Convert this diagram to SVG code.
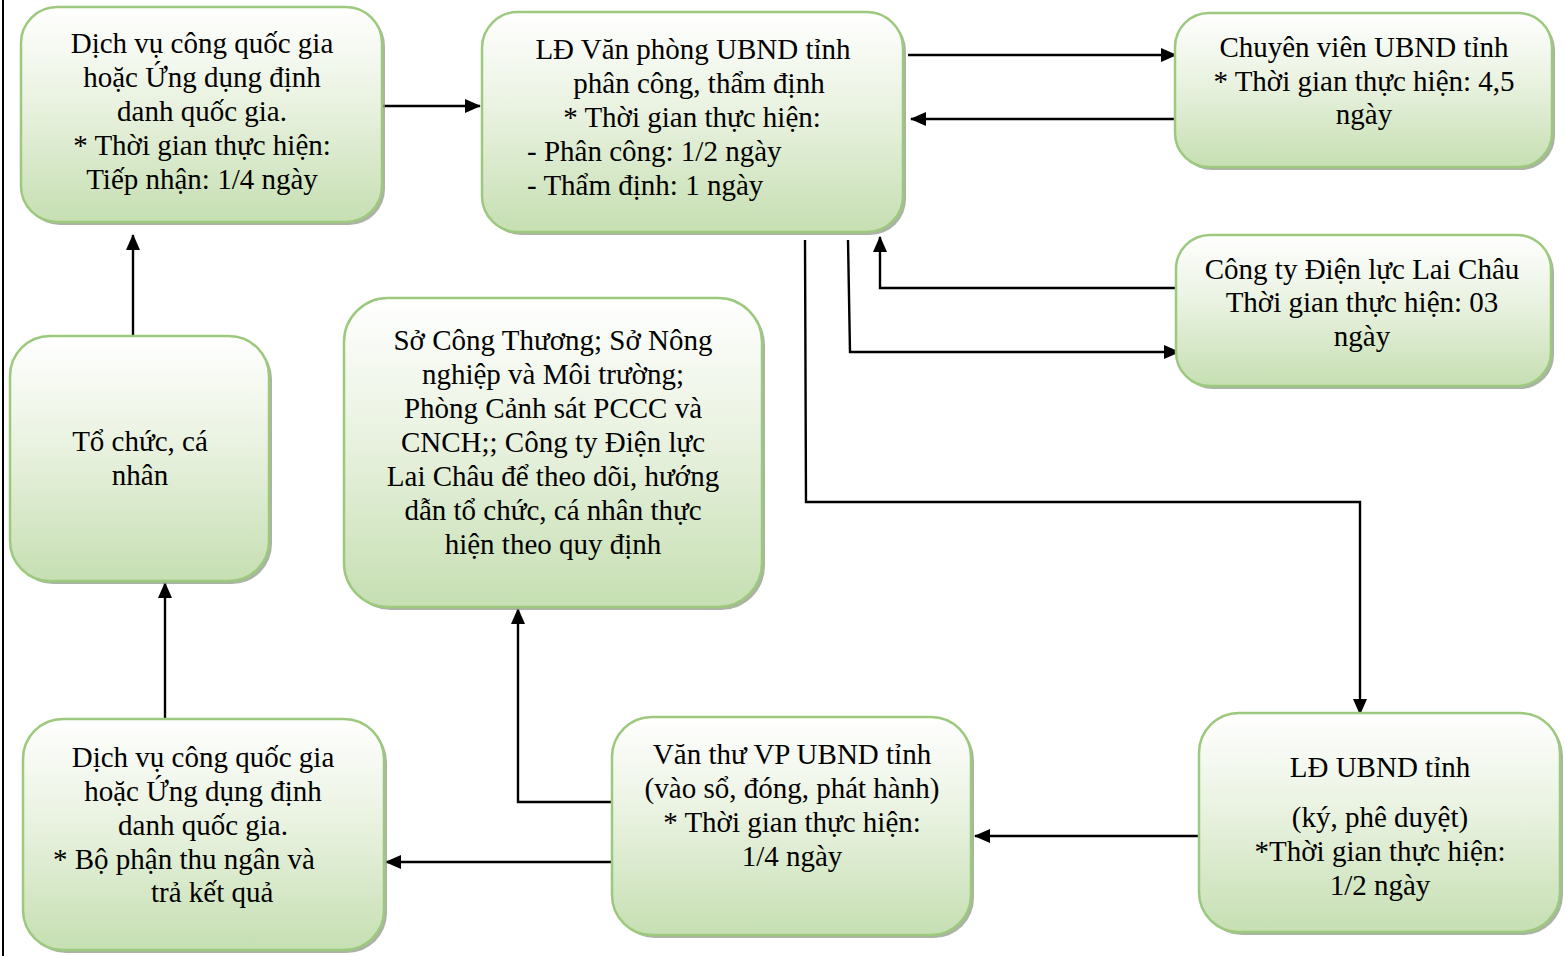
<svg xmlns="http://www.w3.org/2000/svg" width="1566" height="956" viewBox="0 0 1566 956">
<defs>
<linearGradient id="g" x1="0" y1="0" x2="0" y2="1">
<stop offset="0" stop-color="#ffffff"/>
<stop offset="0.45" stop-color="#e9f2e0"/>
<stop offset="1" stop-color="#c6dfb2"/>
</linearGradient>
<marker id="ah" markerWidth="16" markerHeight="14" refX="15" refY="7" orient="auto" markerUnits="userSpaceOnUse">
<path d="M0,0 L16,7 L0,14 Z" fill="#000"/>
</marker>
</defs>
<style>
.box{fill:url(#g);stroke:#9cc97e;stroke-width:2.5}
.sh{fill:#8f9a88;opacity:0.75}
text{font-family:"Liberation Serif","Times New Roman",serif;font-size:29px;fill:#000}
.c{text-anchor:middle}
.ar{fill:none;stroke:#000;stroke-width:2.4;marker-end:url(#ah)}
</style>
<rect width="1566" height="956" fill="#fff"/>
<line x1="3" y1="0" x2="3" y2="956" stroke="#000" stroke-width="2"/>

<g id="connectors">
<path class="ar" d="M383,106 H480"/>
<path class="ar" d="M908,55 H1176"/>
<path class="ar" d="M1176,119 H911"/>
<path class="ar" d="M1176,288 H880 V237"/>
<path class="ar" d="M848,240 L850,352 H1179"/>
<path class="ar" d="M805,240 L806,502 H1360 V714"/>
<path class="ar" d="M133,336 V235"/>
<path class="ar" d="M165,718 V583"/>
<path class="ar" d="M612,862 H386"/>
<path class="ar" d="M612,802 H518 V609"/>
<path class="ar" d="M1199,836 H975"/>
</g>

<g id="n1">
<rect class="sh" x="24" y="10" width="361" height="215" rx="36"/>
<rect class="box" x="21" y="7" width="361" height="215" rx="36"/>
<text class="c" x="202" y="53">Dịch vụ công quốc gia</text>
<text class="c" x="202" y="87">hoặc Ứng dụng định</text>
<text class="c" x="202" y="121">danh quốc gia.</text>
<text class="c" x="202" y="155">* Thời gian thực hiện:</text>
<text class="c" x="202" y="189">Tiếp nhận: 1/4 ngày</text>
</g>

<g id="n2">
<rect class="sh" x="485" y="15" width="421" height="220" rx="36"/>
<rect class="box" x="482" y="12" width="421" height="220" rx="36"/>
<text class="c" x="693" y="59">LĐ Văn phòng UBND tỉnh</text>
<text class="c" x="699" y="93">phân công, thẩm định</text>
<text class="c" x="692" y="127">* Thời gian thực hiện:</text>
<text x="527" y="161">- Phân công: 1/2 ngày</text>
<text x="527" y="195">- Thẩm định: 1 ngày</text>
</g>

<g id="n3">
<rect class="sh" x="1178" y="16" width="377" height="154" rx="34"/>
<rect class="box" x="1175" y="13" width="377" height="154" rx="34"/>
<text class="c" x="1364" y="57">Chuyên viên UBND tỉnh</text>
<text class="c" x="1364" y="91">* Thời gian thực hiện: 4,5</text>
<text class="c" x="1364" y="124">ngày</text>
</g>

<g id="n4">
<rect class="sh" x="1179" y="238" width="375" height="151" rx="34"/>
<rect class="box" x="1176" y="235" width="375" height="151" rx="34"/>
<text class="c" x="1362" y="279">Công ty Điện lực Lai Châu</text>
<text class="c" x="1362" y="312">Thời gian thực hiện: 03</text>
<text class="c" x="1362" y="346">ngày</text>
</g>

<g id="n5">
<rect class="sh" x="347" y="301" width="418" height="309" rx="44"/>
<rect class="box" x="344" y="298" width="418" height="309" rx="44"/>
<text class="c" x="553" y="350">Sở Công Thương; Sở Nông</text>
<text class="c" x="553" y="384">nghiệp và Môi trường;</text>
<text class="c" x="553" y="418">Phòng Cảnh sát PCCC và</text>
<text class="c" x="553" y="452">CNCH;; Công ty Điện lực</text>
<text class="c" x="553" y="486">Lai Châu để theo dõi, hướng</text>
<text class="c" x="553" y="520">dẫn tổ chức, cá nhân thực</text>
<text class="c" x="553" y="554">hiện theo quy định</text>
</g>

<g id="n6">
<rect class="sh" x="13" y="339" width="259" height="245" rx="40"/>
<rect class="box" x="10" y="336" width="259" height="245" rx="40"/>
<text class="c" x="140" y="451">Tổ chức, cá</text>
<text class="c" x="140" y="485">nhân</text>
</g>

<g id="n7">
<rect class="sh" x="26" y="722" width="361" height="231" rx="40"/>
<rect class="box" x="23" y="719" width="361" height="231" rx="40"/>
<text class="c" x="203" y="767">Dịch vụ công quốc gia</text>
<text class="c" x="203" y="801">hoặc Ứng dụng định</text>
<text class="c" x="203" y="835">danh quốc gia.</text>
<text x="53" y="869">* Bộ phận thu ngân và</text>
<text x="151" y="902">trả kết quả</text>
</g>

<g id="n8">
<rect class="sh" x="615" y="720" width="359" height="218" rx="40"/>
<rect class="box" x="612" y="717" width="359" height="218" rx="40"/>
<text class="c" x="792" y="764">Văn thư VP UBND tỉnh</text>
<text class="c" x="792" y="798">(vào sổ, đóng, phát hành)</text>
<text class="c" x="792" y="832">* Thời gian thực hiện:</text>
<text class="c" x="792" y="866">1/4 ngày</text>
</g>

<g id="n9">
<rect class="sh" x="1202" y="716" width="361" height="219" rx="40"/>
<rect class="box" x="1199" y="713" width="361" height="219" rx="40"/>
<text class="c" x="1380" y="777">LĐ UBND tỉnh</text>
<text class="c" x="1380" y="827">(ký, phê duyệt)</text>
<text class="c" x="1380" y="861">*Thời gian thực hiện:</text>
<text class="c" x="1380" y="895">1/2 ngày</text>
</g>
</svg>
